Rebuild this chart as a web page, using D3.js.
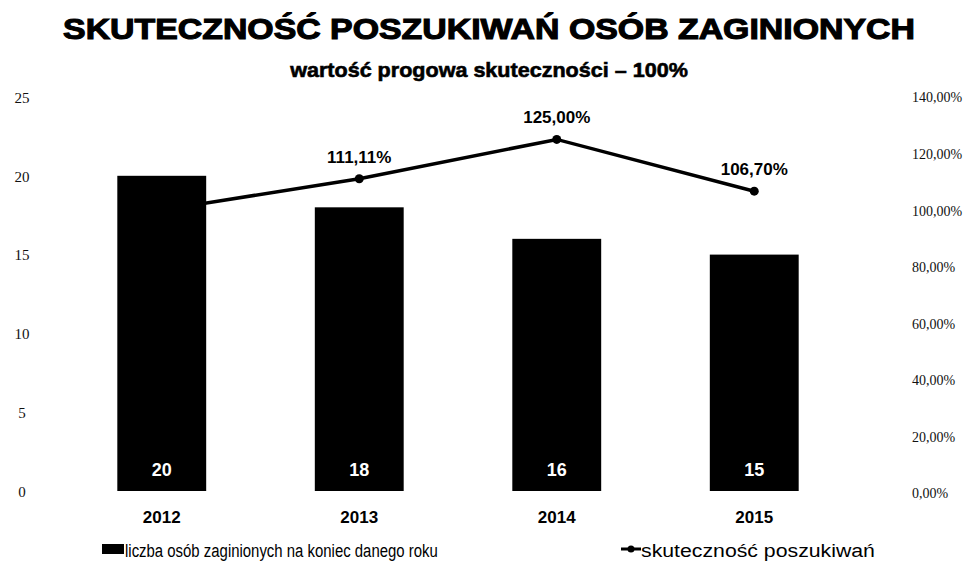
<!DOCTYPE html>
<html><head><meta charset="utf-8">
<script src="https://cdn.jsdelivr.net/npm/d3@7"></script>
<style>body{margin:0;background:#fff}svg{display:block}</style>
</head><body>
<svg id="c" width="978" height="567"></svg>
<script>
const years = ["2012","2013","2014","2015"];
const counts = [20, 18, 16, 15];
const rates = [100.00, 111.11, 125.00, 106.70];
const rateLabels = ["100,00%", "111,11%", "125,00%", "106,70%"];
const leftTicks = [0, 5, 10, 15, 20, 25];
const rightTicks = [0, 20, 40, 60, 80, 100, 120, 140];
const title = "SKUTECZNOŚĆ POSZUKIWAŃ OSÓB ZAGINIONYCH";
const subtitle = "wartość progowa skuteczności – 100%";
const legendBar = "liczba osób zaginionych na koniec danego roku";
const legendLine = "skuteczność poszukiwań";

const svg = d3.select("#c");
const plotTop = 97, plotBottom = 491;
const x = d3.scaleBand().domain(years).range([63, 853]).paddingInner(0.55).paddingOuter(0.275);
const yL = d3.scaleLinear().domain([0, 25]).range([plotBottom, plotTop]);
const yR = d3.scaleLinear().domain([0, 140]).range([plotBottom + 2, plotTop]);
const fmtPct = v => d3.format(".2f")(v).replace(".", ",") + "%";
const SANS = "Liberation Sans, Arial, sans-serif";

// fit a text horizontally to a target width by scaling around its anchor point
function fitText(sel, anchorX, targetW) {
  const w = sel.node().getComputedTextLength();
  const k = targetW / w;
  sel.attr("transform", `translate(${anchorX},0) scale(${k},1) translate(${-anchorX},0)`);
}

// title
const t1 = svg.append("text").attr("x", 489).attr("y", 39).attr("text-anchor", "middle")
  .attr("font-family", SANS).attr("font-weight", "bold")
  .attr("font-size", 29).attr("fill", "#000").attr("stroke", "#000").attr("stroke-width", 1.1).text(title);
fitText(t1, 489, 852);
const t2 = svg.append("text").attr("x", 489).attr("y", 77).attr("text-anchor", "middle")
  .attr("font-family", SANS).attr("font-weight", "bold")
  .attr("font-size", 20).attr("fill", "#000").attr("stroke", "#000").attr("stroke-width", 0.6).text(subtitle);
fitText(t2, 489, 398);

// left axis
const gl = svg.append("g").attr("transform", "translate(22,0)")
  .call(d3.axisLeft(yL).tickValues(leftTicks).tickSize(0).tickPadding(0));
gl.select(".domain").remove();
gl.selectAll("text").attr("text-anchor", "middle").attr("dy", "0.35em")
  .attr("font-family", "Liberation Serif, Times New Roman, serif").attr("font-size", 15).attr("fill", "#111");

// right axis
const gr = svg.append("g").attr("transform", "translate(912,0)")
  .call(d3.axisRight(yR).tickValues(rightTicks).tickSize(0).tickPadding(0).tickFormat(fmtPct));
gr.select(".domain").remove();
gr.selectAll("text").attr("dy", "0.35em")
  .attr("font-family", "Liberation Serif, Times New Roman, serif").attr("font-size", 14).attr("fill", "#111");

// line (drawn beneath bars)
const line = d3.line().x((d, i) => x(years[i]) + x.bandwidth() / 2).y(d => yR(d));
svg.append("path").datum(rates).attr("d", line).attr("fill", "none")
  .attr("stroke", "#000").attr("stroke-width", 3.5);
svg.selectAll("circle.pt").data(rates).join("circle").attr("class", "pt")
  .attr("cx", (d, i) => x(years[i]) + x.bandwidth() / 2).attr("cy", d => yR(d)).attr("r", 4.5).attr("fill", "#000");
svg.selectAll("text.pl").data(rates).join("text").attr("class", "pl")
  .attr("x", (d, i) => x(years[i]) + x.bandwidth() / 2).attr("y", d => yR(d) - 16)
  .attr("text-anchor", "middle").attr("font-family", SANS)
  .attr("font-weight", "bold").attr("font-size", 17).attr("fill", "#000")
  .text((d, i) => rateLabels[i]);

// bars
svg.selectAll("rect.bar").data(counts).join("rect").attr("class", "bar")
  .attr("x", (d, i) => x(years[i])).attr("y", d => yL(d))
  .attr("width", x.bandwidth()).attr("height", d => yL(0) - yL(d)).attr("fill", "#000");
svg.selectAll("text.bl").data(counts).join("text").attr("class", "bl")
  .attr("x", (d, i) => x(years[i]) + x.bandwidth() / 2).attr("y", 476)
  .attr("text-anchor", "middle").attr("font-family", SANS)
  .attr("font-weight", "bold").attr("font-size", 18).attr("fill", "#fff").text(d => d);

// category labels
svg.selectAll("text.cat").data(years).join("text").attr("class", "cat")
  .attr("x", d => x(d) + x.bandwidth() / 2).attr("y", 523)
  .attr("text-anchor", "middle").attr("font-family", SANS)
  .attr("font-weight", "bold").attr("font-size", 17).attr("fill", "#000").text(d => d);

// legend
svg.append("rect").attr("x", 102).attr("y", 544).attr("width", 22).attr("height", 10).attr("fill", "#000");
const l1 = svg.append("text").attr("x", 125).attr("y", 557)
  .attr("font-family", SANS).attr("font-size", 19).attr("fill", "#000").text(legendBar);
fitText(l1, 125, 313);
svg.append("line").attr("x1", 621).attr("x2", 641).attr("y1", 549).attr("y2", 549)
  .attr("stroke", "#000").attr("stroke-width", 3);
svg.append("circle").attr("cx", 631).attr("cy", 549).attr("r", 3.5).attr("fill", "#000");
const l2 = svg.append("text").attr("x", 641).attr("y", 557)
  .attr("font-family", SANS).attr("font-size", 19).attr("fill", "#000").text(legendLine);
fitText(l2, 641, 234);
</script>
</body></html>
